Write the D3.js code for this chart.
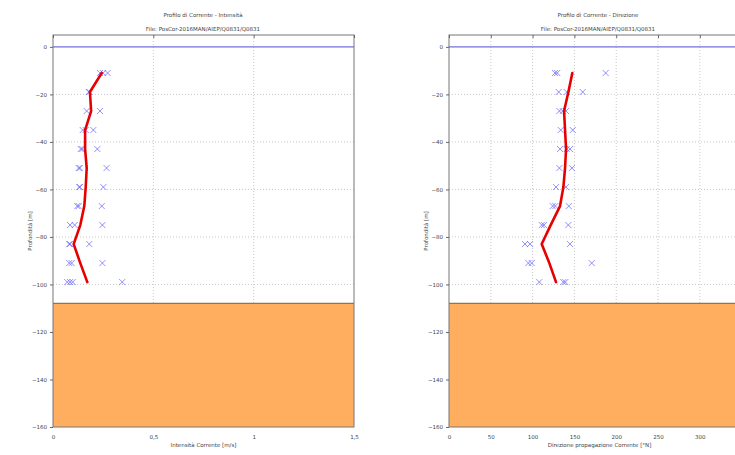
<!DOCTYPE html>
<html>
<head>
<meta charset="utf-8">
<script src="https://cdn.jsdelivr.net/npm/d3@7/dist/d3.min.js"></script>
<style>
  body { margin: 0; background: #fff; }
  svg text { font-family: "DejaVu Sans", sans-serif; fill: #444; }
</style>
</head>
<body>
<div id="chart"></div>
<script>
// depth levels of the measurements (m)
const depths = [-11, -19, -27, -35, -43, -51, -59, -67, -75, -83, -91, -99]

// single observations at each depth, intensity (m/s)
const intensityObs = [
  [0.234, 0.25, 0.272],
  [0.178, 0.182],
  [0.168, 0.234],
  [0.148, 0.163, 0.201],
  [0.138, 0.146, 0.221],
  [0.128, 0.134, 0.267],
  [0.131, 0.134, 0.251],
  [0.121, 0.128, 0.243],
  [0.085, 0.108, 0.246],
  [0.081, 0.085, 0.181],
  [0.081, 0.093, 0.246],
  [0.071, 0.085, 0.098, 0.345]
]
// mean profile, intensity
const intensityMean = [0.243, 0.184, 0.19, 0.16, 0.16, 0.168, 0.163, 0.156, 0.136, 0.103, 0.136, 0.171]

// single observations at each depth, direction (deg N)
const directionObs = [
  [126.8, 129.5, 187.4],
  [131.2, 140.8, 159.9],
  [132, 136, 140],
  [133.6, 148],
  [132.8, 140.8, 144.7],
  [132, 147],
  [128, 140],
  [124, 127.2, 143.2],
  [110.9, 113.6, 142.7],
  [90.9, 96.9, 144.7],
  [94.9, 98.9, 170.7],
  [108, 136.7, 139.1]
]
// mean profile, direction
const directionMean = [147.5, 142.8, 137.6, 138.8, 140, 138.8, 136.8, 132.8, 121.6, 110.9, 120, 128]

const seabed = -108
const yTicks = [0, -20, -40, -60, -80, -100, -120, -140, -160]
const intensityTicks = [0, 0.5, 1, 1.5]
const directionTicks = [0, 50, 100, 150, 200, 250, 300, 350]

const WIDTH = 735
const HEIGHT = 455

const svg = d3.select("#chart").append("svg")
  .attr("width", WIDTH)
  .attr("height", HEIGHT)

function drawPanel(cfg){
  const g = svg.append("g")
  const left = cfg.left, right = cfg.left + 301
  const top = 35, bottom = 427

  const x = d3.scaleLinear().domain(cfg.xDomain).range([left, right])
  const y = d3.scaleLinear().domain([5, -160]).range([top, bottom])

  // titles
  g.append("text").attr("x", cfg.titleX).attr("y", 17)
    .attr("text-anchor", "middle").style("font-size", "5.5px").text(cfg.title)
  g.append("text").attr("x", cfg.titleX).attr("y", 31)
    .attr("text-anchor", "middle").style("font-size", "5.5px").text(cfg.file)

  // grid
  g.selectAll(".vgrid").data(cfg.xTicks.filter(d => d > cfg.xDomain[0] && d < cfg.xDomain[1]))
    .enter().append("line")
    .attr("x1", d => x(d)).attr("x2", d => x(d))
    .attr("y1", top).attr("y2", bottom)
    .attr("stroke", "#bbb").attr("stroke-width", 0.8).attr("stroke-dasharray", "1,2")
  g.selectAll(".hgrid").data(yTicks.filter(d => d < 0 && d > -160))
    .enter().append("line")
    .attr("x1", left).attr("x2", right)
    .attr("y1", d => y(d)).attr("y2", d => y(d))
    .attr("stroke", "#bbb").attr("stroke-width", 0.8).attr("stroke-dasharray", "1,2")

  // seabed
  g.append("rect")
    .attr("x", left).attr("y", y(seabed))
    .attr("width", right - left).attr("height", y(-160) - y(seabed))
    .attr("fill", "#ffad5e")
  g.append("line")
    .attr("x1", left).attr("x2", right)
    .attr("y1", y(seabed)).attr("y2", y(seabed))
    .attr("stroke", "#8a7560").attr("stroke-width", 1.2)

  // sea surface
  g.append("line")
    .attr("x1", left).attr("x2", right)
    .attr("y1", y(0)).attr("y2", y(0))
    .attr("stroke", "#7070d8").attr("stroke-width", 1.3)

  // frame
  g.append("rect")
    .attr("x", left).attr("y", top)
    .attr("width", right - left).attr("height", bottom - top)
    .attr("fill", "none").attr("stroke", "#777").attr("stroke-width", 1)

  // axes (labels only where they fit in the window)
  const fmt = d => String(d).replace(".", ",")
  const labelTicks = cfg.xTicks.filter(d => x(d) < WIDTH - 8)
  const xAxis = g.append("g").attr("transform", `translate(0,${bottom})`)
    .call(d3.axisBottom(x).tickValues(labelTicks).tickSize(0).tickPadding(8).tickFormat(fmt))
  xAxis.select(".domain").remove()
  const xTop = g.append("g").attr("transform", `translate(0,${top})`)
    .call(d3.axisBottom(x).tickValues(cfg.xTicks).tickSize(3).tickFormat(""))
  xTop.select(".domain").remove()

  const yAxis = g.append("g").attr("transform", `translate(${left},0)`)
    .call(d3.axisLeft(y).tickValues(yTicks).tickSize(3).tickPadding(3))
  yAxis.select(".domain").remove()

  svg.selectAll(".tick text").style("font-size", "5.5px").attr("fill", "#444")
  svg.selectAll(".tick line").attr("stroke", "#666")

  // axis labels
  g.append("text").attr("x", (left + right) / 2).attr("y", 447)
    .attr("text-anchor", "middle").style("font-size", "5.5px").text(cfg.xLabel)
  g.append("text")
    .attr("transform", `translate(${left - 21},${(top + bottom) / 2}) rotate(-90)`)
    .attr("text-anchor", "middle").style("font-size", "5.5px").text("Profondità [m]")

  // observations
  const pts = []
  cfg.obs.forEach((row, i) => row.forEach(v => pts.push({v: v, d: depths[i]})))
  const s = 3
  g.selectAll(".obs").data(pts).enter().append("path")
    .attr("d", p => `M${x(p.v)-s},${y(p.d)-s}L${x(p.v)+s},${y(p.d)+s}M${x(p.v)-s},${y(p.d)+s}L${x(p.v)+s},${y(p.d)-s}`)
    .attr("stroke", "#5a5aff").attr("stroke-opacity", 0.75).attr("stroke-width", 0.9)

  // mean profile
  const line = d3.line().x(d => x(d[0])).y(d => y(d[1]))
  g.append("path")
    .datum(cfg.mean.map((v, i) => [v, depths[i]]))
    .attr("d", line)
    .attr("fill", "none").attr("stroke", "#e60000").attr("stroke-width", 2.6)
    .attr("stroke-linejoin", "round").attr("stroke-linecap", "round")
}

drawPanel({
  left: 53, xDomain: [0, 1.5], xTicks: intensityTicks,
  titleX: 203,
  title: "Profilo di Corrente - Intensità",
  file: "File: PosCor-2016MAN/AIEP/Q0831/Q0831",
  xLabel: "Intensità  Corrente [m/s]",
  obs: intensityObs, mean: intensityMean
})

drawPanel({
  left: 449, xDomain: [0, 360], xTicks: directionTicks,
  titleX: 598,
  title: "Profilo di Corrente - Direzione",
  file: "File: PosCor-2016MAN/AIEP/Q0831/Q0831",
  xLabel: "Direzione propagazione Corrente [°N]",
  obs: directionObs, mean: directionMean
})
</script>
</body>
</html>
